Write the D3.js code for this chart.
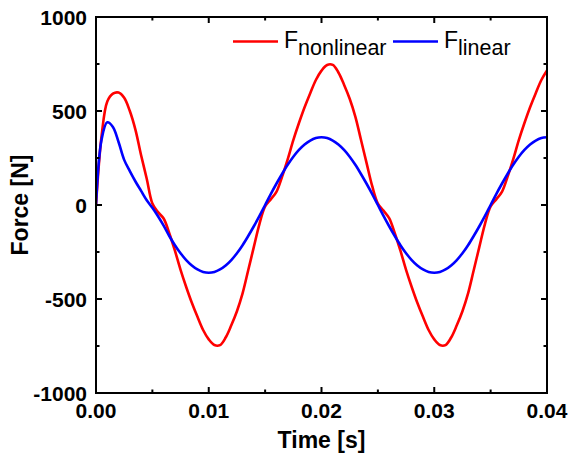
<!DOCTYPE html>
<html lang="en">
<head>
<meta charset="utf-8">
<title>Force vs time</title>
<script src="https://d3js.org/d3.v7.min.js"></script>
<style>
  body { margin: 0; background: #fff; }
  svg { display: block; }
  .tick-label { font-family: "Liberation Sans", Arial, sans-serif; font-size: 21px; font-weight: bold; }
  .axis-title { font-family: "Liberation Sans", Arial, sans-serif; font-size: 23px; font-weight: bold; }
  .legend { font-family: "Liberation Sans", Arial, sans-serif; font-weight: normal; }
</style>
</head>
<body>
<svg width="570" height="462"></svg>
<script>
// sample times, every 0.5 ms from 0 to 40 ms
const timeStep = 0.0005;
const time = d3.range(0, 0.04 + timeStep / 2, timeStep);

// F nonlinear [N]
const fNonlinear = [
  0, 370, 550, 592, 598, 570, 500, 400, 265, 140,
  8, -38, -72, -150, -243, -345, -436, -520, -595, -665,
  -715, -745, -745, -705, -640, -565, -470, -347, -223, -100,
  -8, 30, 70, 150, 243, 345, 436, 520, 595, 665,
  715, 745, 745, 705, 640, 565, 470, 347, 223, 100,
  8, -30, -70, -150, -243, -345, -436, -520, -595, -665,
  -715, -745, -745, -705, -640, -565, -470, -347, -223, -100,
  -8, 30, 70, 150, 243, 345, 436, 520, 595, 665,
  715
];

// F linear [N]
const fLinear = [
  0, 350, 440, 415, 335, 240, 180, 125, 75, 25,
  -15, -60, -110, -165, -214, -257, -293, -322, -343, -356,
  -360, -356, -343, -322, -293, -257, -214, -165, -113, -58,
  0, 58, 113, 165, 214, 257, 293, 322, 343, 356,
  360, 356, 343, 322, 293, 257, 214, 165, 113, 58,
  0, -58, -113, -165, -214, -257, -293, -322, -343, -356,
  -360, -356, -343, -322, -293, -257, -214, -165, -113, -58,
  0, 58, 113, 165, 214, 257, 293, 322, 343, 356,
  360
];

const xTicks = [0, 0.01, 0.02, 0.03, 0.04];
const xTickLabels = ["0.00", "0.01", "0.02", "0.03", "0.04"];
const xMinor = [0.005, 0.015, 0.025, 0.035];
const yTicks = [-1000, -500, 0, 500, 1000];
const yTickLabels = ["-1000", "-500", "0", "500", "1000"];
const yMinor = [-750, -250, 250, 750];

const seriesNames = ["nonlinear", "linear"];
const seriesColors = ["#ff0000", "#0000ff"];

const plotL = 96, plotR = 547, plotT = 17, plotB = 393;

const svg = d3.select("svg");

const x = d3.scaleLinear().domain([0, 0.04]).range([plotL, plotR]);
const y = d3.scaleLinear().domain([-1000, 1000]).range([plotB, plotT]);

// curves
const line = d3.line()
  .x((d, i) => x(time[i]))
  .y(d => y(d))
  .curve(d3.curveCatmullRom.alpha(0.5));

svg.append("clipPath").attr("id", "plotclip")
  .append("rect").attr("x", plotL).attr("y", plotT)
  .attr("width", plotR - plotL).attr("height", plotB - plotT);

const curves = svg.append("g").attr("clip-path", "url(#plotclip)");
curves.append("path")
  .attr("d", line(fNonlinear))
  .attr("fill", "none")
  .attr("stroke", seriesColors[0])
  .attr("stroke-width", 2.6);
curves.append("path")
  .attr("d", line(fLinear))
  .attr("fill", "none")
  .attr("stroke", seriesColors[1])
  .attr("stroke-width", 2.6);

// ticks, all pointing inward on all four sides
const axes = svg.append("g").attr("stroke", "#000").attr("stroke-width", 2);
const major = 6, minor = 3.5;

xTicks.forEach(t => {
  axes.append("line").attr("x1", x(t)).attr("x2", x(t)).attr("y1", plotB).attr("y2", plotB - major);
  axes.append("line").attr("x1", x(t)).attr("x2", x(t)).attr("y1", plotT).attr("y2", plotT + major);
});
xMinor.forEach(t => {
  axes.append("line").attr("x1", x(t)).attr("x2", x(t)).attr("y1", plotB).attr("y2", plotB - minor);
  axes.append("line").attr("x1", x(t)).attr("x2", x(t)).attr("y1", plotT).attr("y2", plotT + minor);
});
yTicks.forEach(v => {
  axes.append("line").attr("y1", y(v)).attr("y2", y(v)).attr("x1", plotL).attr("x2", plotL + major);
  axes.append("line").attr("y1", y(v)).attr("y2", y(v)).attr("x1", plotR).attr("x2", plotR - major);
});
yMinor.forEach(v => {
  axes.append("line").attr("y1", y(v)).attr("y2", y(v)).attr("x1", plotL).attr("x2", plotL + minor);
  axes.append("line").attr("y1", y(v)).attr("y2", y(v)).attr("x1", plotR).attr("x2", plotR - minor);
});

// frame
axes.append("rect")
  .attr("x", plotL).attr("y", plotT)
  .attr("width", plotR - plotL).attr("height", plotB - plotT)
  .attr("fill", "none");

// tick labels
svg.selectAll(".xl").data(xTicks).enter().append("text")
  .attr("class", "tick-label")
  .attr("x", d => x(d))
  .attr("y", 418)
  .attr("text-anchor", "middle")
  .text((d, i) => xTickLabels[i]);

svg.selectAll(".yl").data(yTicks).enter().append("text")
  .attr("class", "tick-label")
  .attr("x", 87)
  .attr("y", d => y(d) + 7.5)
  .attr("text-anchor", "end")
  .text((d, i) => yTickLabels[i]);

// axis titles
svg.append("text")
  .attr("class", "axis-title")
  .attr("x", (plotL + plotR) / 2)
  .attr("y", 448)
  .attr("text-anchor", "middle")
  .text("Time [s]");

svg.append("text")
  .attr("class", "axis-title")
  .attr("transform", "translate(28," + ((plotT + plotB) / 2) + ") rotate(-90)")
  .attr("text-anchor", "middle")
  .text("Force [N]");

// legend
const legendX = [233, 393];
seriesNames.forEach((name, i) => {
  const lx = legendX[i];
  svg.append("line")
    .attr("x1", lx).attr("x2", lx + 45)
    .attr("y1", 41.5).attr("y2", 41.5)
    .attr("stroke", seriesColors[i]).attr("stroke-width", 2.6);
  const t = svg.append("text")
    .attr("class", "legend")
    .attr("x", lx + 51)
    .attr("y", 48);
  t.append("tspan").attr("font-size", "23px").text("F");
  t.append("tspan").attr("font-size", "21.5px").attr("dy", 6.5).text(name);
});
</script>
</body>
</html>
